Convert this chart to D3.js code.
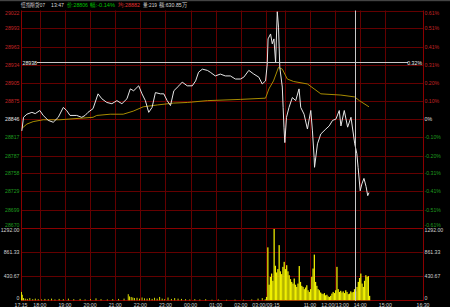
<!DOCTYPE html>
<html>
<head>
<meta charset="utf-8">
<script src="https://cdn.jsdelivr.net/npm/d3@7"></script>
<style>
  html, body { margin: 0; padding: 0; background: #000; }
  svg { display: block; }
  text { font-family: "Liberation Sans", Arial, sans-serif; }
</style>
</head>
<body>
<svg id="chart" width="450" height="307"></svg>
<script>
// Minutes counted from 17:15, breaks removed (night 17:15-03:00, day 09:15-12:00, 13:00-16:30)
const priceMin = [2, 6, 14, 26, 34, 45, 53, 65, 77, 89, 101, 109, 117, 133, 145, 153, 160, 172, 184, 193,
  205, 217, 229, 241, 253, 261, 269, 281, 289, 297, 305, 313, 321, 333, 341, 349, 357, 365, 377, 385,
  397, 409, 417, 424, 433, 445, 452, 464, 476, 488, 500, 512, 524, 532, 544, 556, 568, 576, 584, 588,
  590, 596, 600, 604, 608, 612, 615, 618, 624, 626, 628, 630, 634, 640, 648, 656, 664, 668, 676, 684,
  692, 696, 700, 701, 708, 716, 728, 736, 744, 752, 760, 764, 772, 780, 788, 797, 802, 805, 810, 814,
  819, 824, 828, 831];
const priceVal = [28827, 28849, 28854, 28857, 28855, 28860, 28852, 28844, 28841, 28849, 28865, 28860, 28852, 28852, 28849, 28852, 28857, 28863, 28887, 28879,
  28873, 28871, 28876, 28871, 28879, 28895, 28892, 28900, 28887, 28876, 28857, 28865, 28889, 28887, 28887, 28876, 28868, 28892, 28900, 28906,
  28900, 28900, 28908, 28922, 28927, 28925, 28922, 28916, 28919, 28916, 28916, 28911, 28911, 28914, 28925, 28919, 28914, 28903, 28908, 28935,
  28976, 28984, 28968, 28976, 28938, 29020, 28995, 28930, 28898, 28865, 28833, 28808, 28849, 28865, 28881, 28876, 28895, 28865, 28854, 28830,
  28860, 28827, 28784, 28768, 28806, 28822, 28830, 28835, 28844, 28846, 28860, 28835, 28860, 28833, 28849, 28806, 28790, 28768, 28730, 28741,
  28750, 28737, 28722, 28727];

const avgMin = [2, 14, 29, 53, 93, 172, 181, 213, 244, 268, 292, 326, 364, 397, 445, 524, 584, 592, 603, 615,
  624, 636, 651, 684, 700, 716, 764, 797, 808, 831];
const avgVal = [28831, 28838, 28842, 28845, 28845, 28849, 28852, 28854, 28854, 28859, 28866, 28869, 28872, 28873, 28876, 28878, 28880, 28895, 28908, 28930,
  28927, 28911, 28907, 28903, 28895, 28887, 28885, 28882, 28876, 28866];

const nightVolMin = [0, 2, 5, 9, 14, 20, 27, 33, 40, 48, 56, 64, 72, 80, 90, 100, 112, 125, 140, 152,
  165, 178, 190, 205, 218, 232, 245, 255, 258, 262, 266, 270, 276, 282, 288, 294, 300, 306, 312, 318,
  324, 330, 336, 342, 350, 358, 366, 374, 382, 392, 402, 414, 426, 440, 455, 470, 490, 510, 530, 550,
  565, 575, 582];
const nightVolVal = [150, 100, 40, 30, 25, 40, 20, 30, 20, 15, 25, 20, 30, 15, 25, 20, 30, 20, 25, 15,
  20, 35, 20, 15, 20, 25, 30, 110, 70, 60, 50, 40, 45, 30, 50, 35, 30, 40, 25, 45,
  30, 60, 30, 20, 50, 25, 40, 30, 25, 20, 15, 20, 15, 20, 10, 15, 10, 12, 10, 15,
  30, 40, 20];

// Day session volume, one value per 3-minute slot from minute 585 (09:15)
const dayVolStart = 585;
const dayVolStep = 3;
const dayVolVal = [60, 950, 280, 420, 480, 350, 1280, 620, 500, 560, 990, 520, 470, 600, 690, 560, 630, 520, 450, 380,
  330, 300, 390, 280, 240, 300, 615, 330, 260, 240, 200, 230, 270, 180, 150, 200, 420, 570, 820, 330,
  260, 200, 180, 140, 120, 110, 130, 90, 100, 70, 60, 80, 120, 150, 130, 180, 600, 200, 150, 170,
  140, 160, 130, 180, 150, 110, 120, 160, 140, 150, 200, 160, 240, 330, 400, 480, 300, 240, 350, 450,
  420, 435, 80];

const timeTicks = [0, 45, 105, 165, 225, 285, 345, 405, 465, 525, 585, 630, 690, 750, 810, 870, 960];
const timeLabels = ['17:15', '18:00', '19:00', '20:00', '21:00', '22:00', '23:00', '00:00', '01:00', '02:00',
  '03:00/09:15', '', '11:00', '12:00/13:00', '14:00', '15:00', '16:30'];

const priceTicks = [29022, 28993, 28963, 28934, 28905, 28875, 28846, 28817, 28787, 28758, 28729, 28699, 28670];
const pctLabels = ['0.61%', '0.51%', '0.41%', '0.31%', '0.20%', '0.10%', '0%', '-0.10%', '-0.20%', '-0.31%', '-0.41%', '-0.51%', '-0.61%'];

const volTicks = [1292, 861.33, 430.67, 0];
const volLabels = ['1292.00', '861.33', '430.67', '0'];

const headerText = ['恒指期货07', '13:47', '价:28806', '幅:-0.14%', '均:28882', '量:219', '额:630.85万'];
const headerColor = ['#d8d8d8', '#d8d8d8', '#00c000', '#00c000', '#e03030', '#d8d8d8', '#d8d8d8'];

const basePrice = 28846;
const cursorMin = 797;
const cursorPrice = 28938;

const svg = d3.select('#chart');
const W = 450, H = 307;

svg.append('rect').attr('width', W).attr('height', H).attr('fill', '#000');
svg.append('rect').attr('width', W).attr('height', 1.2).attr('fill', '#444');

// Scales
const x = d3.scaleLinear().domain([0, 960]).range([21, 423]);
const yP = d3.scaleLinear().domain([28670, 29022]).range([227.8, 10.5]);
const yV = d3.scaleLinear().domain([0, 1292]).range([300.3, 228.3]);

const gridColor = '#640000';
const axisColor = '#8a0000';

// Horizontal price grid
svg.append('g').selectAll('line').data(priceTicks.slice(0, 12)).join('line')
  .attr('x1', 21).attr('x2', 423)
  .attr('y1', d => Math.round(yP(d)) + 0.5).attr('y2', d => Math.round(yP(d)) + 0.5)
  .attr('stroke', gridColor).attr('stroke-width', 1);

// Volume grid
svg.append('g').selectAll('line').data(volTicks).join('line')
  .attr('x1', 21).attr('x2', 423)
  .attr('y1', d => Math.round(yV(d)) + 0.5).attr('y2', d => Math.round(yV(d)) + 0.5)
  .attr('stroke', (d, i) => (i === 0 || i === volTicks.length - 1) ? axisColor : gridColor)
  .attr('stroke-width', 1);

// Vertical time grid
svg.append('g').selectAll('line').data(timeTicks).join('line')
  .attr('x1', d => Math.round(x(d)) + 0.5).attr('x2', d => Math.round(x(d)) + 0.5)
  .attr('y1', 10.5).attr('y2', 300.8)
  .attr('stroke', (d, i) => (i === 0 || i === timeTicks.length - 1) ? axisColor : gridColor)
  .attr('stroke-width', 1);

// Left price labels
const tickColor = d => d > basePrice ? '#c02424' : (d < basePrice ? '#1f9a1f' : '#e0e0e0');
const labelShift = i => i === 0 ? 2.4 : (i === priceTicks.length - 1 ? -2.4 : 0);

svg.append('g').selectAll('text').data(priceTicks).join('text')
  .attr('x', 19.5).attr('y', (d, i) => yP(d) + labelShift(i))
  .attr('text-anchor', 'end').attr('dominant-baseline', 'central')
  .attr('font-size', 5.2).attr('fill', tickColor)
  .text(d => d);

svg.append('g').selectAll('text').data(priceTicks).join('text')
  .attr('x', 424.5).attr('y', (d, i) => yP(d) + labelShift(i))
  .attr('text-anchor', 'start').attr('dominant-baseline', 'central')
  .attr('font-size', 5.2).attr('fill', tickColor)
  .text((d, i) => pctLabels[i]);

// Volume labels
const vShift = i => i === 0 ? 1.8 : (i === volTicks.length - 1 ? -2.6 : 0);
svg.append('g').selectAll('text').data(volTicks).join('text')
  .attr('x', 19.5).attr('y', (d, i) => yV(d) + vShift(i))
  .attr('text-anchor', 'end').attr('dominant-baseline', 'central')
  .attr('font-size', 5.2).attr('fill', '#d0d0d0')
  .text((d, i) => volLabels[i]);
svg.append('g').selectAll('text').data(volTicks).join('text')
  .attr('x', 424.5).attr('y', (d, i) => yV(d) + vShift(i))
  .attr('text-anchor', 'start').attr('dominant-baseline', 'central')
  .attr('font-size', 5.2).attr('fill', '#d0d0d0')
  .text((d, i) => volLabels[i]);

// Time labels
svg.append('g').selectAll('text').data(timeTicks).join('text')
  .attr('x', d => x(d)).attr('y', 304.6)
  .attr('text-anchor', 'middle').attr('dominant-baseline', 'central')
  .attr('font-size', 5.2).attr('fill', '#d0d0d0')
  .text((d, i) => timeLabels[i]);

// Volume bars
const nightBars = nightVolMin.map((m, i) => ({ m: m, v: nightVolVal[i], w: 0.9 }));
const dayBars = dayVolVal.map((v, i) => ({ m: dayVolStart + i * dayVolStep, v: v, w: x(dayVolStep) - x(0) }));
svg.append('g').selectAll('rect').data(nightBars.concat(dayBars)).join('rect')
  .attr('x', d => x(d.m)).attr('width', d => d.w)
  .attr('y', d => yV(d.v)).attr('height', d => yV(0) - yV(d.v))
  .attr('fill', '#f0f000');

// Average line
svg.append('path')
  .datum(avgMin.map((m, i) => [m, avgVal[i]]))
  .attr('fill', 'none').attr('stroke', '#a88c00').attr('stroke-width', 1)
  .attr('d', d3.line().x(d => x(d[0])).y(d => yP(d[1])));

// Price line
svg.append('path')
  .datum(priceMin.map((m, i) => [m, priceVal[i]]))
  .attr('fill', 'none').attr('stroke', '#e6e6e6').attr('stroke-width', 1)
  .attr('d', d3.line().x(d => x(d[0])).y(d => yP(d[1])));

// Crosshair
const cx = Math.round(x(cursorMin)) + 0.5;
const cy = Math.round(yP(cursorPrice)) + 0.5;
svg.append('line').attr('x1', cx).attr('x2', cx).attr('y1', 10.5).attr('y2', 300.8)
  .attr('stroke', '#c8c8c8').attr('stroke-width', 1);
svg.append('line').attr('x1', 37).attr('x2', 408).attr('y1', cy).attr('y2', cy)
  .attr('stroke', '#c8c8c8').attr('stroke-width', 1);
svg.append('text').attr('x', 22.5).attr('y', cy).attr('dominant-baseline', 'central')
  .attr('font-size', 5.2).attr('fill', '#f0f0f0').text(cursorPrice);
svg.append('text').attr('x', 422).attr('y', cy).attr('text-anchor', 'end').attr('dominant-baseline', 'central')
  .attr('font-size', 5.2).attr('fill', '#f0f0f0')
  .text(((cursorPrice - basePrice) / basePrice * 100).toFixed(2) + '%');

// Header
const headerX = [21, 51, 67, 90, 118, 143, 159];
const headerW = [24, 13, 21, 25, 22, 14, 28];
svg.append('g').selectAll('text').data(headerText).join('text')
  .attr('x', (d, i) => headerX[i]).attr('y', 5.3)
  .attr('dominant-baseline', 'central')
  .attr('font-family', '"Noto Sans CJK SC", sans-serif')
  .attr('font-size', 6).attr('fill', (d, i) => headerColor[i])
  .attr('textLength', (d, i) => headerW[i]).attr('lengthAdjust', 'spacingAndGlyphs')
  .text(d => d);
</script>
</body>
</html>
